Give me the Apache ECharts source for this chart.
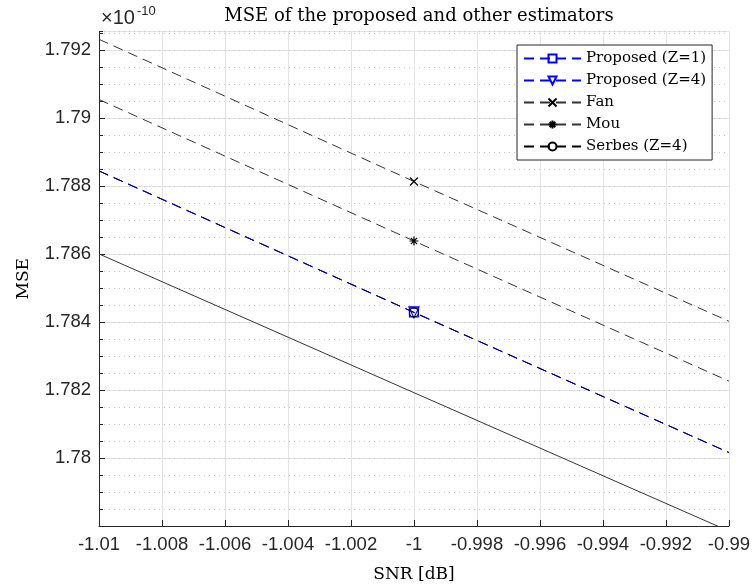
<!DOCTYPE html>
<html>
<head>
<meta charset="utf-8">
<script src="https://cdn.jsdelivr.net/npm/echarts@6/dist/echarts.min.js"></script>
<style>
html,body{margin:0;padding:0;background:#fff;}
#chart{width:753px;height:588px;}
</style>
</head>
<body>
<div id="chart"></div>
<script>
// SNR [dB] sample points visible in the zoomed window
const snr = [-1.01, -1, -0.99];
// marker is drawn only at this SNR point
const markerSnr = -1;
// MSE values in units of 1e-10
const proposedZ1 = [1.78844, 1.78428, 1.78016];
const proposedZ4 = [1.78844, 1.78428, 1.78016];
const fan        = [1.79231, 1.78813, 1.78402];
const mou        = [1.79054, 1.78638, 1.78226];
const serbesZ4   = [1.78844, 1.78428, 1.78016];
const bound      = [1.78600, 1.78192, 1.77785];
const legendNames = ['Proposed (Z=1)', 'Proposed (Z=4)', 'Fan', 'Mou', 'Serbes (Z=4)'];
const xTicks = { min: -1.01, max: -0.99, step: 0.002 };
const yTicks = { min: 1.778, max: 1.79254, step: 0.002, minorStep: 0.0005 };

const chart = echarts.init(document.getElementById('chart'), null, { renderer: 'canvas' });

function buildData(vals) {
  return snr.map((x, i) => {
    const item = { value: [x, vals[i]] };
    if (Math.abs(x - markerSnr) > 1e-9) item.symbol = 'none';
    return item;
  });
}

const BLUE = '#0000ff';
const DARK = '#262626';
const sansFont = 'Liberation Sans';
const serifFont = 'DejaVu Serif';

function markerSeries(name, vals, symbol, size, color, lineColor) {
  return {
    name: name,
    type: 'line',
    data: buildData(vals),
    symbol: symbol,
    symbolSize: size,
    showSymbol: true,
    showAllSymbol: true,
    animation: false,
    lineStyle: { color: lineColor, width: 1, type: [10, 6] },
    itemStyle: { color: 'rgba(0,0,0,0)', borderColor: color, borderWidth: 1.2 },
    emphasis: { disabled: true }
  };
}

const series = [
  markerSeries(legendNames[0], proposedZ1, 'path://M0,0H10V10H0Z', 9, BLUE, BLUE),
  markerSeries(legendNames[1], proposedZ4, 'path://M0,0H10L5,10Z', [10, 11], BLUE, BLUE),
  markerSeries(legendNames[2], fan, 'path://M0,0L10,10M10,0L0,10', 8, '#000', '#333'),
  markerSeries(legendNames[3], mou, 'path://M5,0V10M0,5H10M1.5,1.5L8.5,8.5M8.5,1.5L1.5,8.5', 9, '#000', '#333'),
  markerSeries(legendNames[4], serbesZ4, 'circle', 9, '#000', '#000'),
  {
    name: 'bound',
    type: 'line',
    data: snr.map((x, i) => [x, bound[i]]),
    symbol: 'none',
    animation: false,
    lineStyle: { color: '#333', width: 1, type: 'solid' },
    emphasis: { disabled: true }
  }
];
series[4].lineStyle.opacity = 0.6;

const isMajor = (v) => Math.abs(v / yTicks.step - Math.round(v / yTicks.step)) < 1e-6;

const option = {
  backgroundColor: '#fff',
  animation: false,
  title: {
    text: 'MSE of the proposed and other estimators',
    left: 414, top: 2, textAlign: 'center',
    textStyle: { fontFamily: serifFont, fontSize: 18, fontWeight: 'normal', color: '#000' }
  },
  grid: { left: 99, right: 23, top: 31.5, bottom: 60, containLabel: false },
  legend: {
    orient: 'vertical',
    left: 517, top: 45,
    data: legendNames.map((n, i) => i === 4 ? { name: n, lineStyle: { opacity: 1 } } : { name: n }),
    backgroundColor: '#fff',
    borderColor: DARK, borderWidth: 1,
    padding: [6, 6, 6, 6],
    itemWidth: 57, itemHeight: 10, itemGap: 7,
    selectedMode: false,
    textStyle: { fontFamily: serifFont, fontSize: 15, color: '#000' }
  },
  xAxis: {
    type: 'value',
    min: xTicks.min, max: xTicks.max, interval: xTicks.step,
    name: 'SNR [dB]', nameLocation: 'middle', nameGap: 40,
    nameTextStyle: { fontFamily: serifFont, fontSize: 17, color: '#000' },
    axisLine: { lineStyle: { color: DARK, width: 1 } },
    axisTick: { inside: true, length: 6, lineStyle: { color: DARK } },
    axisLabel: {
      fontFamily: sansFont, fontSize: 18.5, color: DARK, margin: 9,
      formatter: (v) => parseFloat(v.toFixed(3)).toString()
    },
    splitLine: { show: true, lineStyle: { color: '#e3e3e3', width: 1 } }
  },
  yAxis: [
    {
      type: 'value',
      min: yTicks.min, max: yTicks.max, interval: yTicks.step,
      name: 'MSE', nameLocation: 'middle', nameGap: 67, nameRotate: 90,
      nameTextStyle: { fontFamily: serifFont, fontSize: 17, color: '#000' },
      axisLine: { show: true, lineStyle: { color: DARK, width: 1 } },
      axisTick: { inside: true, length: 6, lineStyle: { color: DARK } },
      axisLabel: {
        fontFamily: sansFont, fontSize: 18.5, color: DARK, margin: 8,
        showMaxLabel: false, showMinLabel: false,
        formatter: (v) => (isMajor(v) && v > yTicks.min + 1e-6) ? parseFloat(v.toFixed(3)).toString() : ''
      },
      splitLine: { show: true, lineStyle: { color: '#e3e3e3', width: 1 } }
    },
    {
      type: 'value',
      position: 'left',
      min: yTicks.min, max: yTicks.max, interval: yTicks.minorStep,
      axisLine: { show: false },
      axisTick: { show: true, inside: true, length: 4, lineStyle: { color: DARK } },
      axisLabel: { show: false },
      splitLine: { show: true, lineStyle: { color: '#c8c8c8', width: 1, type: [1, 4] } }
    }
  ],
  graphic: [
    { type: 'text', left: 101, top: 8, style: { text: '×10', font: '20px "Liberation Sans"', fill: DARK } },
    { type: 'text', left: 137, top: 5, style: { text: '-10', font: '13px "Liberation Sans"', fill: DARK } }
  ],
  series: series
};

chart.setOption(option);
</script>
</body>
</html>
